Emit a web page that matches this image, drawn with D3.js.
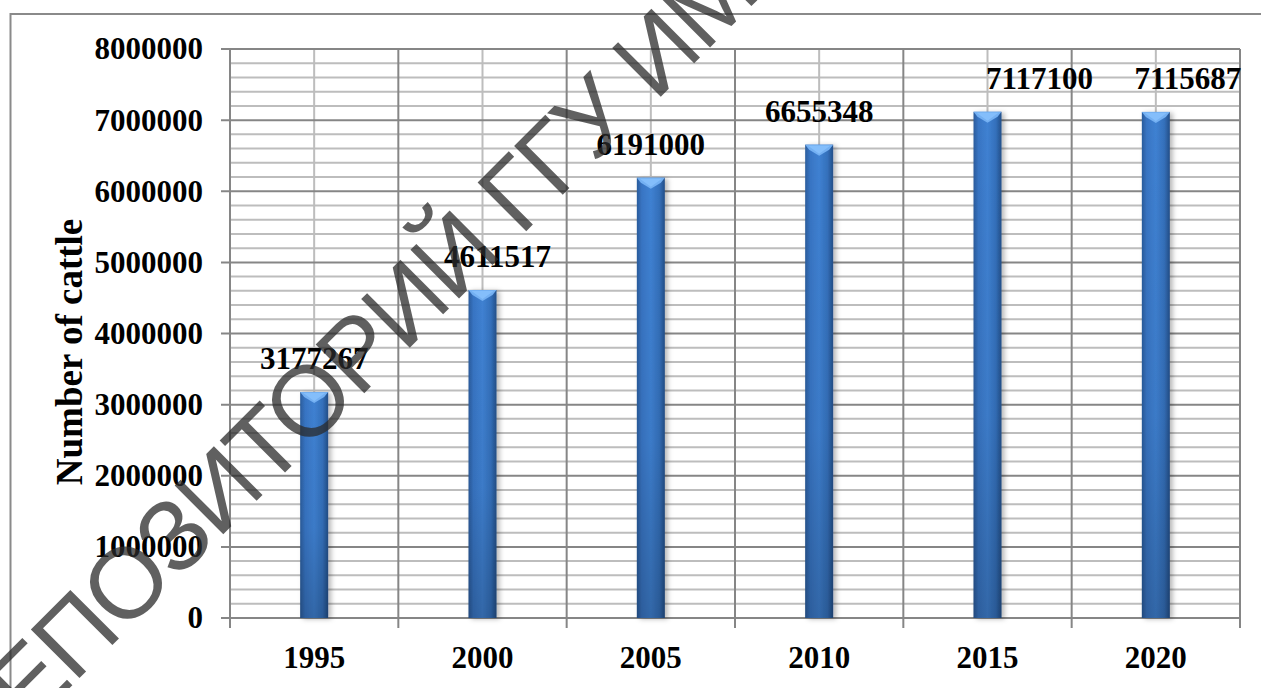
<!DOCTYPE html>
<html>
<head>
<meta charset="utf-8">
<script src="https://cdn.jsdelivr.net/npm/d3@7"></script>
<style>
  html, body { margin: 0; padding: 0; background: #fff; }
  svg { display: block; }
</style>
</head>
<body>
<script>
// ---- data ----
const years = ["1995", "2000", "2005", "2010", "2015", "2020"];
const cattle = [3177267, 4611517, 6191000, 6655348, 7117100, 7115687];
const yTickValues = [0, 1000000, 2000000, 3000000, 4000000, 5000000, 6000000, 7000000, 8000000];
const yAxisTitle = "Number of cattle";
const watermarkText = "РЕПОЗИТОРИЙ ГГУ ИМЕНИ Ф. СКОРИНЫ";

// ---- layout ----
const W = 1261, H = 688;
const plot = { left: 230, right: 1240, top: 49, bottom: 618 };
const barWidth = 28;
const labelNudgeX = [0, 15, 0, 0, 52, 32];
const labelGap = 23;
const serif = "'Liberation Serif', 'Times New Roman', serif";

const svg = d3.select("body").append("svg").attr("width", W).attr("height", H);
const defs = svg.append("defs");

// horizontal gradient for cylinder-like bar
const hg = defs.append("linearGradient").attr("id", "barH").attr("x1", "0").attr("x2", "1").attr("y1", "0").attr("y2", "0");
[[0, "#2a5c9c"], [0.18, "#3875c4"], [0.5, "#3f81d2"], [0.8, "#3470bb"], [1, "#234f88"]]
  .forEach(([o, c]) => hg.append("stop").attr("offset", o).attr("stop-color", c));
const vg = defs.append("linearGradient").attr("id", "barV").attr("x1", "0").attr("x2", "0").attr("y1", "0").attr("y2", "1");
[[0, "#000", 0], [0.6, "#000", 0.05], [1, "#000", 0.2]]
  .forEach(([o, c, a]) => vg.append("stop").attr("offset", o).attr("stop-color", c).attr("stop-opacity", a));
const sh = defs.append("filter").attr("id", "shadow").attr("x", "-50%").attr("y", "-10%").attr("width", "200%").attr("height", "120%");
sh.append("feDropShadow").attr("dx", 3).attr("dy", 1).attr("stdDeviation", 2.5).attr("flood-color", "#000").attr("flood-opacity", 0.28);

// outer chart border
svg.append("rect").attr("x", 10.5).attr("y", 14).attr("width", 1262).attr("height", 700)
  .attr("fill", "#fff").attr("stroke", "#8a8a8a").attr("stroke-width", 2);

// scales
const x = d3.scaleBand().domain(years).range([plot.left, plot.right]).padding(0);
const y = d3.scaleLinear().domain([0, 8000000]).range([plot.bottom, plot.top]);

// minor horizontal grid
const minor = d3.range(0, 8000001, 200000).filter(v => v % 1000000 !== 0);
svg.append("g").selectAll("line").data(minor).join("line")
  .attr("x1", plot.left).attr("x2", plot.right)
  .attr("y1", d => y(d)).attr("y2", d => y(d))
  .attr("stroke", "#bdbdbd").attr("stroke-width", 2);

// minor vertical grid at category centers
svg.append("g").selectAll("line").data(years).join("line")
  .attr("x1", d => x(d) + x.bandwidth() / 2).attr("x2", d => x(d) + x.bandwidth() / 2)
  .attr("y1", plot.top).attr("y2", plot.bottom)
  .attr("stroke", "#bdbdbd").attr("stroke-width", 2);

// major vertical grid at category boundaries
const edges = years.map(d => x(d)).concat([plot.right]);
svg.append("g").selectAll("line").data(edges).join("line")
  .attr("x1", d => d).attr("x2", d => d)
  .attr("y1", plot.top).attr("y2", plot.bottom + 10)
  .attr("stroke", "#868686").attr("stroke-width", 2);

// major horizontal grid
svg.append("g").selectAll("line").data(yTickValues).join("line")
  .attr("x1", plot.left - 9).attr("x2", plot.right)
  .attr("y1", d => y(d)).attr("y2", d => y(d))
  .attr("stroke", "#868686").attr("stroke-width", 2);

// y axis labels via d3 axis
const yAxis = svg.append("g").attr("transform", `translate(${plot.left - 9},0)`)
  .call(d3.axisLeft(y).tickValues(yTickValues).tickSize(0).tickPadding(18).tickFormat(d3.format("d")));
yAxis.select(".domain").remove();
yAxis.selectAll("text").attr("font-family", serif).attr("font-size", 31).attr("font-weight", "bold").attr("fill", "#000");

// x axis labels
const xAxis = svg.append("g").attr("transform", `translate(0,${plot.bottom})`)
  .call(d3.axisBottom(x).tickSize(0).tickPadding(28));
xAxis.select(".domain").remove();
xAxis.selectAll("text").attr("font-family", serif).attr("font-size", 31).attr("font-weight", "bold").attr("fill", "#000");

// y axis title
svg.append("text").attr("transform", `translate(82,352) rotate(-90)`)
  .attr("text-anchor", "middle").attr("font-family", serif).attr("font-size", 37).attr("font-weight", "bold")
  .text(yAxisTitle);

// bars
const bars = svg.append("g").selectAll("g").data(cattle).join("g");
bars.append("rect")
  .attr("x", (d, i) => x(years[i]) + x.bandwidth() / 2 - barWidth / 2)
  .attr("y", d => y(d)).attr("width", barWidth).attr("height", d => y(0) - y(d))
  .attr("fill", "url(#barH)").attr("filter", "url(#shadow)");
bars.append("rect")
  .attr("x", (d, i) => x(years[i]) + x.bandwidth() / 2 - barWidth / 2)
  .attr("y", d => y(d)).attr("width", barWidth).attr("height", d => y(0) - y(d))
  .attr("fill", "url(#barV)");
// top bevel
bars.append("path").attr("d", (d, i) => {
  const cx = x(years[i]) + x.bandwidth() / 2, t = y(d), h = barWidth / 2;
  return `M${cx - h},${t} L${cx + h},${t} L${cx + h - 4},${t + 5} L${cx},${t + 11} L${cx - h + 4},${t + 5} Z`;
}).attr("fill", "#74b0f2");
bars.append("path").attr("d", (d, i) => {
  const cx = x(years[i]) + x.bandwidth() / 2, t = y(d), h = barWidth / 2;
  return `M${cx - h + 3},${t + 1} L${cx + h - 3},${t + 1} L${cx},${t + 9} Z`;
}).attr("fill", "#8cc4ff").attr("opacity", 0.7);

// value labels
svg.append("g").selectAll("text").data(cattle).join("text")
  .attr("x", (d, i) => x(years[i]) + x.bandwidth() / 2 + labelNudgeX[i])
  .attr("y", d => y(d) - labelGap)
  .attr("text-anchor", "middle").attr("font-family", serif).attr("font-size", 31).attr("font-weight", "bold")
  .attr("fill", "#000").text(d => d);

// watermark: calibrated so that the 8th letter (О) sits over the first bar
const wmSize = 100, wmAngle = -45;
const anchorA = [307, 401], anchorB = [583, 110]; // centres of letters 7 and 14
const wm = svg.append("text")
  .attr("font-family", "'Liberation Sans', Arial, sans-serif").attr("font-size", wmSize)
  .attr("fill", "#2b2b2b").attr("fill-opacity", 0.75).text(watermarkText);
function charCenter(i) {
  const e = wm.node().getExtentOfChar(i);
  return [e.x + e.width / 2, e.y + e.height / 2];
}
let cA = charCenter(7), cB = charCenter(14);
const target = Math.hypot(anchorB[0] - anchorA[0], anchorB[1] - anchorA[1]);
const ls = (target - (cB[0] - cA[0])) / 7;
wm.attr("letter-spacing", ls);
cA = charCenter(7);
wm.attr("transform", `translate(${anchorA[0]},${anchorA[1]}) rotate(${wmAngle}) translate(${-cA[0]},${-cA[1]})`);
</script>
</body>
</html>
